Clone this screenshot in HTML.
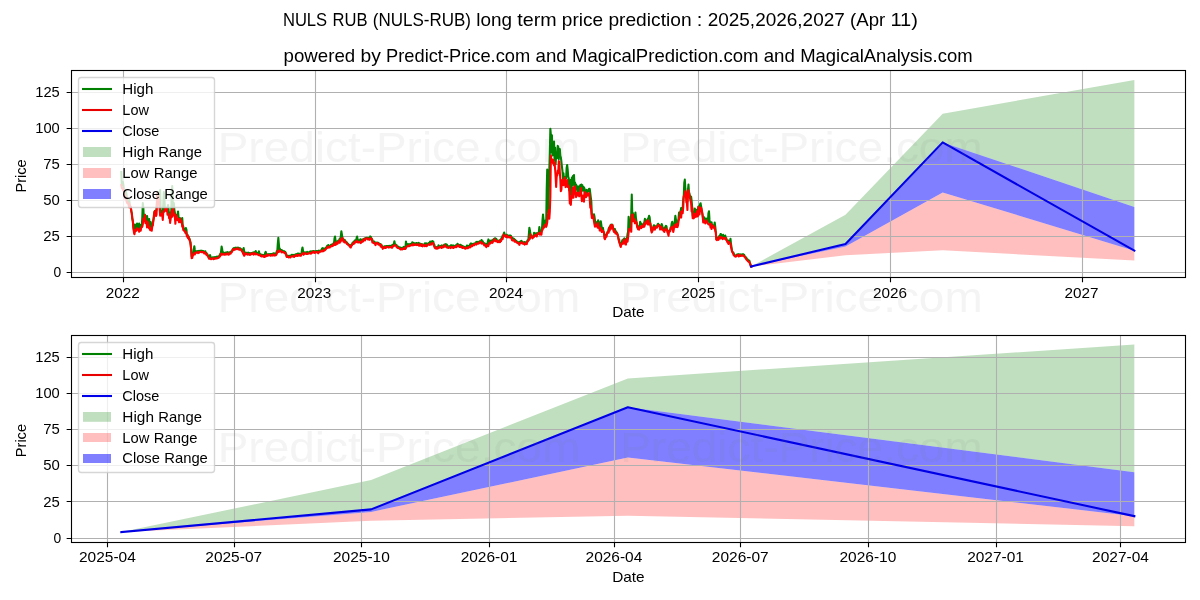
<!DOCTYPE html>
<html><head><meta charset="utf-8"><title>NULS RUB long term price prediction</title>
<style>html,body{margin:0;padding:0;background:#fff;}body{width:1200px;height:600px;overflow:hidden;font-family:"Liberation Sans",sans-serif;}</style></head>
<body>
<svg width="1200" height="600" viewBox="0 0 1200 600" style="display:block">
<rect x="0" y="0" width="1200" height="600" fill="#fff"/>
<g id="ax-top">
<clipPath id="clip-top"><rect x="71.5" y="70.5" width="1114.0" height="207.0"/></clipPath>
<g clip-path="url(#clip-top)">
<polygon points="750.98,266.53 845.51,214.69 942.67,113.74 1134.36,80.05 1134.36,206.91 942.67,142.40 845.51,243.92 750.98,266.53" fill="#008000" fill-opacity="0.25"/>
<polygon points="750.98,266.53 845.51,246.44 942.67,192.44 1134.36,250.69 1134.36,260.62 942.67,250.26 845.51,255.15 750.98,266.53" fill="#ff0000" fill-opacity="0.25"/>
<polygon points="750.98,266.53 845.51,243.92 942.67,142.40 1134.36,206.91 1134.36,250.69 942.67,192.44 845.51,246.44 750.98,266.53" fill="#0000ff" fill-opacity="0.5"/>
</g>
<path d="M123.5 70.5V277.5M315.5 70.5V277.5M506.5 70.5V277.5M698.5 70.5V277.5M890.5 70.5V277.5M1082.5 70.5V277.5M71.5 272.5H1185.5M71.5 236.5H1185.5M71.5 200.5H1185.5M71.5 164.5H1185.5M71.5 128.5H1185.5M71.5 92.5H1185.5" stroke="#b0b0b0" stroke-width="1.11" fill="none"/>
<g clip-path="url(#clip-top)">
<polyline points="121.30,172.00 121.83,184.99 122.35,183.70 122.88,182.00 123.40,185.13 123.93,190.33 124.45,192.19 124.98,194.92 125.50,193.06 126.03,192.00 126.55,195.01 127.08,200.39 127.60,201.24 128.13,202.26 128.65,201.23 129.18,200.00 129.70,204.15 130.23,206.79 130.75,206.67 131.28,210.85 131.80,213.33 132.33,218.59 132.85,221.02 133.38,227.18 133.90,229.99 134.43,232.68 134.95,224.50 135.48,230.37 136.00,228.73 136.53,228.64 137.06,223.50 137.58,229.19 138.11,228.33 138.63,226.88 139.16,223.50 139.68,229.25 140.21,226.91 140.73,225.00 141.26,226.92 141.78,226.93 142.31,216.81 142.83,203.00 143.36,208.04 143.88,219.61 144.41,215.74 144.93,214.73 145.46,217.36 145.98,222.10 146.51,218.25 147.03,216.00 147.56,220.00 148.08,222.09 148.61,220.50 149.13,219.00 149.66,225.31 150.18,226.16 150.71,222.00 151.23,228.83 151.76,225.41 152.29,225.80 152.81,223.51 153.34,220.09 153.86,215.33 154.39,211.91 154.91,210.81 155.44,210.77 155.96,211.67 156.49,209.97 157.01,200.64 157.54,192.05 158.06,192.00 158.59,197.50 159.11,203.06 159.64,202.91 160.16,190.00 160.69,210.83 161.21,210.48 161.74,215.21 162.26,212.12 162.79,214.79 163.31,203.26 163.84,192.00 164.36,197.10 164.89,208.85 165.41,208.07 165.94,208.16 166.46,208.40 166.99,208.64 167.51,207.41 168.04,205.00 168.57,209.48 169.09,215.88 169.62,215.71 170.14,220.56 170.67,212.22 171.19,214.92 171.72,193.23 172.24,186.00 172.77,203.15 173.29,208.45 173.82,203.00 174.34,209.84 174.87,212.71 175.39,215.94 175.92,214.72 176.44,215.63 176.97,215.31 177.49,215.72 178.02,211.44 178.54,217.39 179.07,217.77 179.59,218.54 180.12,218.32 180.64,220.88 181.17,220.18 181.69,220.19 182.22,218.00 182.74,224.98 183.27,226.91 183.80,228.53 184.32,229.62 184.85,230.91 185.37,230.11 185.90,228.00 186.42,229.61 186.95,235.19 187.47,234.83 188.00,237.31 188.52,236.47 189.05,238.62 189.57,238.75 190.10,240.95 190.62,242.45 191.15,249.21 191.67,256.47 192.20,256.23 192.72,254.47 193.25,254.31 193.77,249.99 194.30,246.25 194.82,249.88 195.35,252.53 195.87,251.42 196.40,252.22 196.92,251.16 197.45,251.79 197.97,251.07 198.50,251.97 199.03,250.96 199.55,251.46 200.08,250.73 200.60,251.48 201.13,250.64 201.65,251.50 202.18,250.79 202.70,251.66 203.23,251.03 203.75,252.04 204.28,251.63 204.80,252.35 205.33,251.25 205.85,253.11 206.38,252.78 206.90,254.07 207.43,254.31 207.95,255.96 208.48,256.26 209.00,258.21 209.53,255.71 210.05,255.00 210.58,256.78 211.10,258.51 211.63,257.84 212.15,258.19 212.68,257.32 213.20,258.00 213.73,257.23 214.26,258.15 214.78,257.14 215.31,258.05 215.83,257.12 216.36,257.88 216.88,256.68 217.41,257.64 217.93,256.71 218.46,257.04 218.98,256.05 219.51,256.02 220.03,254.09 220.56,254.69 221.08,251.34 221.61,246.50 222.13,248.86 222.66,253.58 223.18,252.28 223.71,253.78 224.23,253.03 224.76,252.96 225.28,252.50 225.81,253.35 226.33,252.48 226.86,252.41 227.38,252.07 227.91,253.09 228.43,252.62 228.96,253.64 229.49,252.29 230.01,252.63 230.54,251.93 231.06,251.44 231.59,251.17 232.11,251.01 232.64,249.32 233.16,248.69 233.69,248.06 234.21,248.41 234.74,247.95 235.26,248.55 235.79,247.68 236.31,248.26 236.84,247.91 237.36,248.34 237.89,247.48 238.41,248.28 238.94,248.09 239.46,249.19 239.99,248.21 240.51,248.97 241.04,249.10 241.56,249.57 242.09,250.19 242.61,251.53 243.14,249.64 243.66,248.10 244.19,251.35 244.71,252.98 245.24,252.67 245.77,253.71 246.29,252.72 246.82,253.32 247.34,252.96 247.87,254.04 248.39,252.64 248.92,253.65 249.44,253.09 249.97,253.85 250.49,253.30 251.02,253.26 251.54,252.97 252.07,253.25 252.59,252.68 253.12,253.70 253.64,252.44 254.17,253.37 254.69,252.38 255.22,253.06 255.74,251.02 256.27,252.67 256.79,252.71 257.32,253.90 257.84,253.22 258.37,253.93 258.89,251.25 259.42,253.49 259.94,253.97 260.47,254.95 261.00,254.50 261.52,254.93 262.05,254.72 262.57,255.99 263.10,254.84 263.62,255.56 264.15,254.97 264.67,256.34 265.20,252.76 265.72,251.90 266.25,254.01 266.77,254.26 267.30,254.28 267.82,254.68 268.35,254.15 268.87,254.74 269.40,254.17 269.92,254.78 270.45,253.96 270.97,254.01 271.50,253.92 272.02,254.44 272.55,253.76 273.07,254.49 273.60,253.28 274.12,254.73 274.65,253.55 275.17,254.19 275.70,253.44 276.23,254.46 276.75,251.07 277.28,251.62 277.80,243.63 278.33,237.75 278.85,243.79 279.38,249.68 279.90,248.70 280.43,250.45 280.95,249.83 281.48,250.79 282.00,250.21 282.53,251.51 283.05,251.07 283.58,251.67 284.10,251.15 284.63,251.91 285.15,251.72 285.68,252.75 286.20,253.92 286.73,256.34 287.25,255.67 287.78,256.27 288.30,255.80 288.83,257.00 289.35,255.75 289.88,256.23 290.40,255.73 290.93,255.74 291.46,254.95 291.98,255.61 292.51,254.88 293.03,255.62 293.56,254.96 294.08,255.52 294.61,254.79 295.13,255.13 295.66,254.23 296.18,255.30 296.71,254.05 297.23,254.70 297.76,253.55 298.28,254.55 298.81,253.66 299.33,254.43 299.86,253.74 300.38,254.60 300.91,253.77 301.43,254.18 301.96,249.83 302.48,247.50 303.01,250.54 303.53,254.33 304.06,252.20 304.58,252.87 305.11,252.40 305.63,252.71 306.16,252.63 306.69,253.20 307.21,251.91 307.74,253.54 308.26,252.43 308.79,252.39 309.31,251.94 309.84,252.37 310.36,251.44 310.89,252.67 311.41,251.44 311.94,251.82 312.46,251.27 312.99,251.48 313.51,251.05 314.04,251.60 314.56,251.18 315.09,251.41 315.61,251.28 316.14,251.47 316.66,251.04 317.19,251.82 317.71,251.06 318.24,251.66 318.76,250.66 319.29,251.39 319.81,250.78 320.34,251.17 320.86,250.40 321.39,250.51 321.91,248.72 322.44,248.10 322.97,248.46 323.49,249.96 324.02,248.45 324.54,248.71 325.07,248.74 325.59,248.95 326.12,247.44 326.64,247.72 327.17,245.87 327.69,246.49 328.22,245.05 328.74,246.75 329.27,246.02 329.79,246.40 330.32,245.44 330.84,245.96 331.37,244.66 331.89,245.60 332.42,244.29 332.94,244.94 333.47,243.29 333.99,243.36 334.52,238.34 335.04,236.50 335.57,240.89 336.09,241.87 336.62,241.86 337.14,242.34 337.67,241.22 338.20,240.93 338.72,240.21 339.25,240.41 339.77,238.59 340.30,239.77 340.82,236.31 341.35,231.25 341.87,234.23 342.40,237.72 342.92,239.04 343.45,239.97 343.97,239.61 344.50,241.29 345.02,240.23 345.55,241.60 346.07,241.71 346.60,242.56 347.12,242.47 347.65,244.03 348.17,243.91 348.70,244.95 349.22,244.81 349.75,245.78 350.27,245.98 350.80,245.47 351.32,244.56 351.85,244.97 352.37,243.09 352.90,243.28 353.43,241.84 353.95,241.56 354.48,240.93 355.00,241.30 355.53,239.96 356.05,241.30 356.58,238.07 357.10,236.50 357.63,239.32 358.15,241.61 358.68,240.98 359.20,241.46 359.73,240.54 360.25,239.40 360.78,239.37 361.30,241.36 361.83,240.37 362.35,240.31 362.88,239.23 363.40,239.76 363.93,238.79 364.45,239.58 364.98,238.31 365.50,238.16 366.03,238.13 366.55,237.74 367.08,237.97 367.60,238.46 368.13,237.73 368.66,238.51 369.18,238.20 369.71,237.89 370.23,236.43 370.76,236.90 371.28,238.00 371.81,238.76 372.33,239.68 372.86,241.26 373.38,241.37 373.91,242.73 374.43,241.61 374.96,242.74 375.48,242.63 376.01,243.05 376.53,242.66 377.06,242.96 377.58,242.59 378.11,242.87 378.63,242.99 379.16,243.76 379.68,243.70 380.21,244.73 380.73,244.19 381.26,244.70 381.78,245.73 382.31,246.86 382.83,246.93 383.36,246.93 383.89,246.59 384.41,246.74 384.94,246.25 385.46,246.18 385.99,246.13 386.51,246.03 387.04,245.92 387.56,246.20 388.09,246.08 388.61,247.14 389.14,245.81 389.66,247.02 390.19,246.09 390.71,246.90 391.24,245.57 391.76,246.59 392.29,245.22 392.81,244.80 393.34,244.59 393.86,243.95 394.39,241.20 394.91,244.21 395.44,244.29 395.96,245.15 396.49,245.03 397.01,246.18 397.54,246.37 398.06,247.33 398.59,246.71 399.11,247.51 399.64,247.62 400.17,248.32 400.69,247.57 401.22,248.75 401.74,248.10 402.27,248.51 402.79,247.55 403.32,248.71 403.84,246.93 404.37,247.55 404.89,247.28 405.42,247.94 405.94,241.50 406.47,244.34 406.99,245.58 407.52,245.71 408.04,244.01 408.57,245.49 409.09,244.74 409.62,244.70 410.14,243.90 410.67,244.75 411.19,243.90 411.72,244.43 412.24,242.25 412.77,243.56 413.29,242.78 413.82,244.06 414.34,243.23 414.87,244.03 415.40,243.28 415.92,244.00 416.45,242.98 416.97,243.97 417.50,243.34 418.02,243.60 418.55,242.89 419.07,243.94 419.60,243.43 420.12,244.45 420.65,243.81 421.17,244.93 421.70,244.24 422.22,244.28 422.75,244.77 423.27,245.05 423.80,244.76 424.32,244.83 424.85,243.43 425.37,244.69 425.90,243.32 426.42,244.51 426.95,243.57 427.47,243.98 428.00,243.78 428.52,243.82 429.05,242.82 429.57,243.14 430.10,241.50 430.63,243.78 431.15,242.93 431.68,242.75 432.20,241.07 432.73,241.48 433.25,241.50 433.78,243.91 434.30,244.56 434.83,247.09 435.35,246.93 435.88,247.52 436.40,247.09 436.93,247.68 437.45,247.16 437.98,247.72 438.50,245.21 439.03,247.26 439.55,246.24 440.08,246.96 440.60,246.02 441.13,245.93 441.65,245.36 442.18,246.34 442.70,245.90 443.23,246.49 443.75,245.66 444.28,244.65 444.80,244.62 445.33,245.31 445.86,244.13 446.38,245.08 446.91,244.61 447.43,245.90 447.96,246.57 448.48,246.65 449.01,246.20 449.53,246.67 450.06,246.12 450.58,246.46 451.11,245.15 451.63,245.85 452.16,245.55 452.68,246.65 453.21,245.40 453.73,246.21 454.26,246.05 454.78,246.29 455.31,245.67 455.83,245.30 456.36,245.02 456.88,245.27 457.41,243.84 457.93,245.25 458.46,244.59 458.98,245.13 459.51,245.15 460.03,246.33 460.56,244.77 461.08,245.76 461.61,245.45 462.14,246.02 462.66,246.08 463.19,246.81 463.71,246.57 464.24,247.09 464.76,247.06 465.29,247.61 465.81,247.07 466.34,247.16 466.86,245.60 467.39,247.40 467.91,245.94 468.44,246.80 468.96,245.86 469.49,246.02 470.01,244.21 470.54,244.97 471.06,243.37 471.59,244.52 472.11,243.81 472.64,244.89 473.16,244.08 473.69,244.39 474.21,243.41 474.74,244.04 475.26,243.27 475.79,243.27 476.31,241.90 476.84,243.23 477.37,241.91 477.89,243.04 478.42,241.99 478.94,242.25 479.47,241.40 479.99,241.45 480.52,241.02 481.04,241.50 481.57,239.95 482.09,242.57 482.62,241.30 483.14,242.37 483.67,242.93 484.19,244.12 484.72,243.42 485.24,245.13 485.77,244.77 486.29,244.70 486.82,243.91 487.34,244.67 487.87,241.44 488.39,239.40 488.92,240.51 489.44,242.87 489.97,241.11 490.49,241.19 491.02,240.52 491.54,241.36 492.07,240.35 492.60,240.37 493.12,239.63 493.65,239.85 494.17,238.82 494.70,238.50 495.22,238.31 495.75,240.10 496.27,238.84 496.80,240.47 497.32,240.48 497.85,240.80 498.37,240.63 498.90,241.61 499.42,240.55 499.95,241.89 500.47,239.57 501.00,239.88 501.52,238.10 502.05,237.24 502.57,235.88 503.10,235.82 503.62,234.05 504.15,232.50 504.67,234.25 505.20,235.94 505.72,235.31 506.25,235.13 506.77,234.62 507.30,235.65 507.83,235.59 508.35,236.78 508.88,235.51 509.40,236.92 509.93,235.45 510.45,235.60 510.98,235.97 511.50,238.08 512.03,237.47 512.55,237.92 513.08,238.54 513.60,238.69 514.13,238.99 514.65,239.94 515.18,239.74 515.70,241.00 516.23,240.73 516.75,241.57 517.28,241.78 517.80,242.76 518.33,242.25 518.85,243.24 519.38,242.20 519.90,242.56 520.43,241.44 520.95,242.29 521.48,240.86 522.00,241.81 522.53,241.80 523.06,242.44 523.58,242.29 524.11,243.23 524.63,242.03 525.16,243.12 525.68,242.64 526.21,243.28 526.73,241.96 527.26,241.18 527.78,239.97 528.31,240.12 528.83,234.58 529.36,227.75 529.88,230.24 530.41,233.93 530.93,235.17 531.46,236.67 531.98,236.14 532.51,237.79 533.03,236.62 533.56,235.77 534.08,232.75 534.61,234.42 535.13,233.53 535.66,234.38 536.18,233.19 536.71,234.54 537.23,233.70 537.76,233.23 538.28,232.75 538.81,232.34 539.34,227.00 539.86,231.16 540.39,231.64 540.91,232.47 541.44,231.25 541.96,229.38 542.49,220.25 543.01,214.50 543.54,219.88 544.06,225.82 544.59,222.26 545.11,224.33 545.64,220.35 546.16,226.51 546.69,190.18 547.21,169.60 547.74,194.19 548.26,212.26 548.79,192.25 549.31,170.00 549.84,152.61 550.36,128.75 550.89,135.27 551.41,152.26 551.94,135.21 552.46,155.36 552.99,141.67 553.51,145.00 554.04,141.45 554.57,159.94 555.09,147.57 555.62,164.19 556.14,154.89 556.67,158.30 557.19,153.59 557.72,145.80 558.24,146.97 558.77,159.27 559.29,148.84 559.82,149.20 560.34,155.90 560.87,157.50 561.39,161.89 561.92,166.70 562.44,170.80 562.97,179.42 563.49,173.30 564.02,180.41 564.54,177.18 565.07,182.08 565.59,176.70 566.12,178.61 566.64,167.64 567.17,165.00 567.69,169.50 568.22,176.70 568.74,178.23 569.27,190.56 569.80,184.18 570.32,194.79 570.85,179.83 571.37,194.60 571.90,177.50 572.42,185.25 572.95,176.02 573.47,179.73 574.00,175.00 574.52,185.89 575.05,182.50 575.57,189.71 576.10,184.57 576.62,186.70 577.15,188.09 577.67,191.62 578.20,186.41 578.72,191.90 579.25,187.83 579.77,186.70 580.30,185.16 580.82,187.84 581.35,184.52 581.87,189.24 582.40,185.30 582.92,190.79 583.45,186.91 583.97,187.50 584.50,188.74 585.03,192.80 585.55,190.93 586.08,190.99 586.60,189.94 587.13,193.68 587.65,190.96 588.18,191.33 588.70,189.43 589.23,188.75 589.75,188.90 590.28,193.30 590.80,197.40 591.33,201.70 591.85,214.70 592.38,214.48 592.90,214.72 593.43,216.19 593.95,214.20 594.48,216.57 595.00,220.51 595.53,224.97 596.05,221.91 596.58,223.48 597.10,222.81 597.63,224.79 598.15,220.20 598.68,222.45 599.20,224.71 599.73,227.75 600.26,223.95 600.78,221.25 601.31,224.71 601.83,229.54 602.36,228.63 602.88,227.78 603.41,230.94 603.93,232.27 604.46,234.97 604.98,238.02 605.51,235.32 606.03,235.49 606.56,234.03 607.08,233.32 607.61,231.89 608.13,231.24 608.66,228.64 609.18,227.64 609.71,226.62 610.23,226.56 610.76,224.74 611.28,225.53 611.81,224.60 612.33,224.71 612.86,226.54 613.38,228.53 613.91,229.08 614.43,229.90 614.96,229.11 615.48,232.01 616.01,231.25 616.54,232.33 617.06,232.92 617.59,234.45 618.11,236.34 618.64,239.02 619.16,239.50 619.69,243.11 620.21,243.82 620.74,245.33 621.26,242.72 621.79,243.06 622.31,240.30 622.84,240.88 623.36,239.48 623.89,239.24 624.41,238.30 624.94,240.93 625.46,240.88 625.99,241.40 626.51,238.59 627.04,237.95 627.56,233.93 628.09,231.57 628.61,216.90 629.14,227.17 629.66,226.06 630.19,228.48 630.71,220.34 631.24,213.52 631.77,194.42 632.29,214.39 632.82,212.90 633.34,216.47 633.87,217.52 634.39,218.90 634.92,215.99 635.44,212.50 635.97,218.24 636.49,221.77 637.02,224.71 637.54,227.33 638.07,226.15 638.59,227.21 639.12,226.76 639.64,225.82 640.17,221.70 640.69,223.34 641.22,224.47 641.74,223.96 642.27,225.04 642.79,226.00 643.32,225.38 643.84,223.72 644.37,222.07 644.89,218.90 645.42,220.33 645.94,221.23 646.47,220.97 647.00,221.15 647.52,219.38 648.05,218.81 648.57,217.74 649.10,215.80 649.62,217.18 650.15,222.07 650.67,224.87 651.20,229.45 651.72,231.31 652.25,230.57 652.77,228.96 653.30,226.96 653.82,225.19 654.35,225.40 654.87,225.88 655.40,227.73 655.92,226.74 656.45,226.77 656.97,226.25 657.50,224.59 658.02,223.75 658.55,225.68 659.07,224.67 659.60,226.30 660.12,226.16 660.65,226.57 661.17,225.84 661.70,224.00 662.23,225.44 662.75,228.70 663.28,228.76 663.80,230.20 664.33,227.99 664.85,229.23 665.38,226.59 665.90,225.80 666.43,226.24 666.95,229.38 667.48,230.20 668.00,232.92 668.53,232.08 669.05,231.10 669.58,230.39 670.10,230.09 670.63,227.47 671.15,227.03 671.68,223.42 672.20,221.70 672.73,224.85 673.25,227.91 673.78,225.13 674.30,225.13 674.83,220.76 675.35,215.80 675.88,219.34 676.40,223.55 676.93,222.81 677.46,225.71 677.98,221.42 678.51,218.98 679.03,212.48 679.56,216.41 680.08,215.36 680.61,211.25 681.13,208.00 681.66,211.54 682.18,209.93 682.71,207.97 683.23,199.51 683.76,196.01 684.28,182.57 684.81,179.60 685.33,188.73 685.86,193.81 686.38,195.17 686.91,201.10 687.43,201.17 687.96,189.92 688.48,184.60 689.01,192.26 689.53,193.56 690.06,196.59 690.58,197.82 691.11,196.70 691.63,200.78 692.16,207.14 692.68,215.16 693.21,217.54 693.74,216.29 694.26,214.83 694.79,208.50 695.31,210.56 695.84,211.46 696.36,213.24 696.89,209.88 697.41,210.46 697.94,208.89 698.46,206.43 698.99,206.50 699.51,207.21 700.04,204.32 700.56,203.30 701.09,206.17 701.61,209.21 702.14,211.94 702.66,215.38 703.19,219.75 703.71,221.17 704.24,217.40 704.76,218.30 705.29,219.33 705.81,219.91 706.34,218.85 706.86,218.55 707.39,218.36 707.91,221.66 708.44,213.18 708.97,211.25 709.49,219.41 710.02,224.48 710.54,223.92 711.07,222.50 711.59,222.36 712.12,226.09 712.64,225.23 713.17,225.99 713.69,225.80 714.22,226.38 714.74,222.50 715.27,226.99 715.79,231.55 716.32,239.20 716.84,238.69 717.37,238.50 717.89,238.20 718.42,237.64 718.94,236.38 719.47,236.68 719.99,235.54 720.52,234.00 721.04,234.19 721.57,236.84 722.09,235.81 722.62,236.84 723.14,234.84 723.67,237.59 724.20,236.73 724.72,237.29 725.25,235.60 725.77,237.98 726.30,238.27 726.82,240.25 727.35,240.33 727.87,241.41 728.40,240.64 728.92,241.65 729.45,241.03 729.97,241.55 730.50,238.75 731.02,244.06 731.55,247.39 732.07,251.43 732.60,251.80 733.12,252.93 733.65,253.07 734.17,254.80 734.70,255.13 735.22,256.02 735.75,255.28 736.27,255.53 736.80,254.72 737.32,255.29 737.85,254.34 738.37,254.99 738.90,254.20 739.43,254.77 739.95,254.70 740.48,255.25 741.00,254.32 741.53,255.05 742.05,254.51 742.58,255.21 743.10,254.16 743.63,255.11 744.15,254.82 744.68,256.24 745.20,256.58 745.73,257.91 746.25,257.61 746.78,259.33 747.30,259.02 747.83,260.23 748.35,260.02 748.88,261.12 749.40,260.84 749.93,262.88 750.45,264.14 750.98,266.07 751.50,266.50" fill="none" stroke="#008000" stroke-width="2.08" stroke-linejoin="round" stroke-linecap="square"/>
<polyline points="121.30,185.00 121.83,188.00 122.35,188.62 122.88,188.51 123.40,190.72 123.93,190.63 124.45,194.33 124.98,198.34 125.50,195.99 126.03,197.49 126.55,201.49 127.08,202.84 127.60,203.40 128.13,202.56 128.65,205.20 129.18,207.36 129.70,204.61 130.23,207.09 130.75,206.97 131.28,211.15 131.80,213.63 132.33,218.89 132.85,221.45 133.38,227.83 133.90,232.23 134.43,234.29 134.95,229.74 135.48,231.07 136.00,230.69 136.53,230.72 137.06,228.38 137.58,229.49 138.11,228.63 138.63,229.21 139.16,231.79 139.68,229.55 140.21,230.55 140.73,230.65 141.26,227.31 141.78,227.23 142.31,226.54 142.83,224.22 143.36,218.52 143.88,219.91 144.41,221.06 144.93,215.03 145.46,223.10 145.98,222.40 146.51,221.28 147.03,227.41 147.56,225.73 148.08,222.39 148.61,226.34 149.13,228.45 149.66,227.61 150.18,230.11 150.71,229.23 151.23,230.30 151.76,230.75 152.29,226.10 152.81,225.57 153.34,220.39 153.86,218.32 154.39,212.21 154.91,211.11 155.44,211.87 155.96,215.95 156.49,214.88 157.01,200.94 157.54,192.35 158.06,197.07 158.59,197.80 159.11,205.30 159.64,208.74 160.16,215.74 160.69,215.61 161.21,213.73 161.74,215.51 162.26,214.86 162.79,219.97 163.31,211.94 163.84,210.82 164.36,211.55 164.89,209.15 165.41,210.05 165.94,208.46 166.46,210.93 166.99,208.94 167.51,214.60 168.04,214.65 168.57,214.19 169.09,218.10 169.62,217.17 170.14,222.96 170.67,217.62 171.19,217.53 171.72,210.61 172.24,216.67 172.77,209.70 173.29,208.75 173.82,215.16 174.34,213.40 174.87,217.33 175.39,223.81 175.92,215.02 176.44,215.93 176.97,218.76 177.49,220.14 178.02,218.70 178.54,219.11 179.07,222.20 179.59,222.07 180.12,218.62 180.64,221.60 181.17,222.46 181.69,221.08 182.22,226.75 182.74,225.50 183.27,230.09 183.80,230.19 184.32,231.10 184.85,231.40 185.37,232.91 185.90,231.83 186.42,233.89 186.95,236.57 187.47,235.13 188.00,238.13 188.52,236.77 189.05,239.47 189.57,239.76 190.10,242.18 190.62,245.04 191.15,249.51 191.67,258.11 192.20,257.97 192.72,255.80 193.25,254.61 193.77,254.28 194.30,253.19 194.82,254.52 195.35,252.83 195.87,252.98 196.40,252.54 196.92,252.49 197.45,252.09 197.97,253.04 198.50,252.31 199.03,252.67 199.55,252.13 200.08,251.70 200.60,251.78 201.13,251.81 201.65,252.18 202.18,252.14 202.70,252.30 203.23,251.97 203.75,252.34 204.28,253.50 204.80,252.65 205.33,252.62 205.85,253.70 206.38,254.82 206.90,254.37 207.43,255.58 207.95,256.52 208.48,257.14 209.00,258.64 209.53,258.53 210.05,258.82 210.58,258.62 211.10,259.15 211.63,258.68 212.15,258.78 212.68,258.39 213.20,258.30 213.73,259.15 214.26,258.45 214.78,258.67 215.31,258.51 215.83,258.29 216.36,258.18 216.88,258.50 217.41,258.09 217.93,258.06 218.46,257.66 218.98,257.58 219.51,256.91 220.03,256.26 220.56,254.99 221.08,253.57 221.61,254.71 222.13,254.63 222.66,253.88 223.18,254.43 223.71,254.61 224.23,254.75 224.76,254.65 225.28,253.95 225.81,254.61 226.33,253.35 226.86,254.11 227.38,254.02 227.91,254.22 228.43,254.69 228.96,254.58 229.49,253.42 230.01,252.93 230.54,253.71 231.06,252.69 231.59,252.30 232.11,251.82 232.64,249.86 233.16,248.99 233.69,249.95 234.21,249.73 234.74,249.47 235.26,249.48 235.79,248.95 236.31,248.56 236.84,249.11 237.36,248.64 237.89,248.23 238.41,249.36 238.94,249.25 239.46,249.63 239.99,249.14 240.51,249.46 241.04,249.91 241.56,250.56 242.09,251.65 242.61,251.83 243.14,253.69 243.66,254.63 244.19,255.72 244.71,253.28 245.24,254.48 245.77,254.01 246.29,254.12 246.82,253.62 247.34,254.11 247.87,254.68 248.39,254.38 248.92,254.47 249.44,254.34 249.97,254.94 250.49,254.49 251.02,253.56 251.54,254.12 252.07,253.55 252.59,252.98 253.12,254.01 253.64,254.66 254.17,254.04 254.69,253.39 255.22,253.36 255.74,254.36 256.27,254.03 256.79,254.11 257.32,254.20 257.84,254.38 258.37,255.01 258.89,255.12 259.42,255.20 259.94,254.81 260.47,255.81 261.00,255.51 261.52,256.39 262.05,255.67 262.57,256.29 263.10,256.48 263.62,255.86 264.15,257.04 264.67,256.93 265.20,255.81 265.72,256.38 266.25,256.08 266.77,254.56 267.30,255.81 267.82,255.60 268.35,255.58 268.87,255.04 269.40,255.27 269.92,255.22 270.45,255.68 270.97,255.26 271.50,255.04 272.02,255.61 272.55,254.78 273.07,254.85 273.60,254.28 274.12,255.62 274.65,255.38 275.17,255.37 275.70,255.30 276.23,254.76 276.75,253.61 277.28,251.92 277.80,251.01 278.33,250.50 278.85,252.07 279.38,251.08 279.90,250.82 280.43,250.90 280.95,251.13 281.48,252.35 282.00,252.07 282.53,252.09 283.05,252.12 283.58,251.97 284.10,252.60 284.63,253.17 285.15,252.82 285.68,253.55 286.20,255.15 286.73,256.88 287.25,256.40 287.78,257.01 288.30,256.88 288.83,257.52 289.35,256.78 289.88,257.16 290.40,257.39 290.93,256.58 291.46,256.34 291.98,256.54 292.51,256.38 293.03,255.92 293.56,256.39 294.08,256.90 294.61,255.95 295.13,255.87 295.66,255.41 296.18,255.81 296.71,255.08 297.23,255.00 297.76,255.81 298.28,254.85 298.81,255.55 299.33,255.64 299.86,255.05 300.38,255.09 300.91,255.78 301.43,254.48 301.96,253.97 302.48,253.18 303.01,254.02 303.53,254.75 304.06,254.05 304.58,253.17 305.11,253.32 305.63,253.57 306.16,254.00 306.69,253.90 307.21,253.96 307.74,253.84 308.26,253.44 308.79,253.40 309.31,253.35 309.84,253.08 310.36,253.22 310.89,253.70 311.41,253.06 311.94,252.73 312.46,251.89 312.99,252.67 313.51,251.67 314.04,251.90 314.56,252.86 315.09,252.80 315.61,252.44 316.14,251.77 316.66,252.30 317.19,252.12 317.71,252.64 318.24,253.30 318.76,252.38 319.29,251.90 319.81,251.52 320.34,251.79 320.86,251.53 321.39,250.81 321.91,251.26 322.44,250.36 322.97,251.38 323.49,251.12 324.02,250.87 324.54,249.93 325.07,250.09 325.59,249.32 326.12,248.74 326.64,248.29 327.17,247.34 327.69,246.79 328.22,247.63 328.74,247.05 329.27,247.18 329.79,247.52 330.32,246.03 330.84,246.26 331.37,246.42 331.89,246.19 332.42,245.42 332.94,245.90 333.47,245.18 333.99,243.66 334.52,243.59 335.04,245.05 335.57,244.45 336.09,242.17 336.62,244.33 337.14,243.48 337.67,243.62 338.20,242.25 338.72,241.92 339.25,240.71 339.77,242.84 340.30,240.07 340.82,241.42 341.35,238.43 341.87,239.11 342.40,238.02 342.92,240.17 343.45,241.61 343.97,240.54 344.50,242.41 345.02,242.35 345.55,241.91 346.07,242.77 346.60,243.33 347.12,244.09 347.65,244.35 348.17,244.72 348.70,245.53 349.22,245.68 349.75,246.08 350.27,247.25 350.80,247.52 351.32,245.50 351.85,245.55 352.37,244.42 352.90,243.58 353.43,244.01 353.95,242.55 354.48,243.33 355.00,241.71 355.53,242.26 356.05,241.60 356.58,240.92 357.10,242.14 357.63,241.72 358.15,242.53 358.68,242.24 359.20,241.76 359.73,242.38 360.25,242.44 360.78,243.03 361.30,241.66 361.83,242.15 362.35,240.61 362.88,241.65 363.40,240.06 363.93,239.09 364.45,239.88 364.98,240.46 365.50,238.46 366.03,238.54 366.55,238.56 367.08,238.27 367.60,239.40 368.13,238.67 368.66,238.81 369.18,239.80 369.71,238.75 370.23,239.50 370.76,238.36 371.28,238.45 371.81,239.06 372.33,242.46 372.86,242.04 373.38,242.88 373.91,243.03 374.43,243.45 374.96,243.70 375.48,245.09 376.01,243.35 376.53,242.99 377.06,243.26 377.58,243.01 378.11,244.26 378.63,244.69 379.16,244.06 379.68,244.22 380.21,245.19 380.73,246.62 381.26,245.00 381.78,247.36 382.31,247.16 382.83,248.82 383.36,247.79 383.89,247.92 384.41,247.04 384.94,247.04 385.46,247.98 385.99,247.72 386.51,247.15 387.04,246.96 387.56,246.50 388.09,247.29 388.61,247.44 389.14,247.37 389.66,247.32 390.19,246.75 390.71,247.25 391.24,247.16 391.76,247.59 392.29,247.63 392.81,246.32 393.34,245.63 393.86,245.90 394.39,245.40 394.91,245.19 395.44,245.57 395.96,245.45 396.49,246.90 397.01,247.06 397.54,247.76 398.06,248.04 398.59,248.05 399.11,248.22 399.64,248.84 400.17,248.97 400.69,249.51 401.22,249.40 401.74,248.76 402.27,249.43 402.79,248.76 403.32,249.01 403.84,249.03 404.37,247.85 404.89,248.97 405.42,248.89 405.94,247.97 406.47,246.97 406.99,246.53 407.52,246.01 408.04,246.29 408.57,245.95 409.09,246.11 409.62,245.20 410.14,245.77 410.67,245.51 411.19,245.14 411.72,244.73 412.24,245.31 412.77,243.86 413.29,245.17 413.82,244.98 414.34,244.95 414.87,244.97 415.40,244.38 415.92,244.60 416.45,245.11 416.97,244.99 417.50,244.87 418.02,243.90 418.55,245.16 419.07,245.62 419.60,245.63 420.12,245.30 420.65,244.45 421.17,246.03 421.70,245.65 422.22,244.58 422.75,246.35 423.27,245.35 423.80,245.23 424.32,245.38 424.85,246.21 425.37,245.10 425.90,245.36 426.42,246.12 426.95,245.99 427.47,245.00 428.00,244.86 428.52,244.12 429.05,244.30 429.57,244.91 430.10,244.76 430.63,244.38 431.15,244.54 431.68,243.05 432.20,243.07 432.73,243.14 433.25,243.58 433.78,245.38 434.30,246.54 434.83,247.73 435.35,248.38 435.88,247.82 436.40,247.62 436.93,248.75 437.45,248.30 437.98,248.38 438.50,247.13 439.03,247.75 439.55,247.50 440.08,247.27 440.60,246.50 441.13,247.38 441.65,247.92 442.18,247.58 442.70,246.99 443.23,247.09 443.75,247.15 444.28,244.95 444.80,245.99 445.33,246.01 445.86,246.27 446.38,247.26 446.91,247.40 447.43,247.42 447.96,247.86 448.48,248.01 449.01,247.20 449.53,247.31 450.06,247.65 450.58,248.05 451.11,246.82 451.63,246.93 452.16,247.12 452.68,247.77 453.21,247.12 453.73,247.94 454.26,246.75 454.78,246.98 455.31,246.79 455.83,247.13 456.36,247.10 456.88,245.57 457.41,245.71 457.93,246.20 458.46,245.76 458.98,245.43 459.51,246.91 460.03,246.75 460.56,246.87 461.08,246.49 461.61,247.40 462.14,246.97 462.66,247.92 463.19,247.17 463.71,247.47 464.24,248.26 464.76,248.09 465.29,248.75 465.81,248.42 466.34,247.63 466.86,248.07 467.39,247.70 467.91,248.27 468.44,247.12 468.96,246.86 469.49,247.35 470.01,247.54 470.54,247.06 471.06,245.66 471.59,245.63 472.11,246.25 472.64,245.24 473.16,244.67 473.69,245.17 474.21,245.26 474.74,244.34 475.26,243.67 475.79,243.57 476.31,244.56 476.84,243.53 477.37,243.68 477.89,243.64 478.42,243.63 478.94,242.80 479.47,243.05 479.99,241.95 480.52,242.04 481.04,241.95 481.57,243.57 482.09,243.19 482.62,243.09 483.14,243.69 483.67,244.29 484.19,245.33 484.72,244.59 485.24,245.43 485.77,245.88 486.29,247.18 486.82,246.05 487.34,245.06 487.87,245.40 488.39,246.05 488.92,243.73 489.44,243.17 489.97,243.77 490.49,242.81 491.02,242.65 491.54,241.66 492.07,242.92 492.60,242.54 493.12,241.53 493.65,241.28 494.17,239.12 494.70,240.57 495.22,240.11 495.75,240.93 496.27,241.49 496.80,241.22 497.32,240.78 497.85,242.24 498.37,241.67 498.90,242.06 499.42,242.01 499.95,242.19 500.47,239.87 501.00,241.08 501.52,239.38 502.05,239.13 502.57,239.15 503.10,236.95 503.62,234.65 504.15,235.60 504.67,235.46 505.20,236.24 505.72,236.86 506.25,235.43 506.77,237.25 507.30,235.95 507.83,237.36 508.35,237.13 508.88,237.11 509.40,237.47 509.93,237.28 510.45,237.40 510.98,236.75 511.50,238.38 512.03,240.12 512.55,240.56 513.08,240.50 513.60,240.47 514.13,239.95 514.65,241.74 515.18,241.16 515.70,241.55 516.23,241.83 516.75,242.50 517.28,242.63 517.80,243.28 518.33,243.14 518.85,243.63 519.38,244.87 519.90,243.18 520.43,242.76 520.95,242.91 521.48,243.08 522.00,242.19 522.53,242.95 523.06,243.83 523.58,243.65 524.11,243.67 524.63,244.61 525.16,243.42 525.68,243.96 526.21,243.58 526.73,244.19 527.26,241.48 527.78,241.63 528.31,240.42 528.83,240.19 529.36,238.71 529.88,238.86 530.41,234.23 530.93,237.27 531.46,236.97 531.98,237.14 532.51,238.32 533.03,237.40 533.56,236.07 534.08,236.81 534.61,235.00 535.13,235.17 535.66,235.90 536.18,235.67 536.71,236.51 537.23,234.92 537.76,233.53 538.28,233.92 538.81,233.48 539.34,232.93 539.86,234.77 540.39,233.71 540.91,232.77 541.44,234.71 541.96,230.64 542.49,229.89 543.01,228.38 543.54,228.34 544.06,226.12 544.59,226.83 545.11,224.63 545.64,224.94 546.16,226.81 546.69,225.05 547.21,222.49 547.74,216.96 548.26,212.56 548.79,210.12 549.31,218.59 549.84,211.33 550.36,196.42 550.89,155.55 551.41,161.50 551.94,162.14 552.46,159.51 552.99,163.12 553.51,160.09 554.04,165.34 554.57,162.45 555.09,169.00 555.62,176.86 556.14,187.05 556.67,176.57 557.19,175.61 557.72,170.49 558.24,173.35 558.77,161.06 559.29,161.86 559.82,172.02 560.34,179.75 560.87,191.09 561.39,189.74 561.92,180.46 562.44,179.77 562.97,183.25 563.49,185.26 564.02,183.80 564.54,177.48 565.07,182.38 565.59,187.08 566.12,185.96 566.64,183.30 567.17,179.97 567.69,186.89 568.22,185.33 568.74,186.24 569.27,190.93 569.80,203.47 570.32,203.41 570.85,204.84 571.37,195.97 571.90,198.02 572.42,189.05 572.95,187.70 573.47,197.73 574.00,191.21 574.52,186.40 575.05,188.17 575.57,191.81 576.10,197.18 576.62,194.10 577.15,192.73 577.67,195.37 578.20,193.86 578.72,193.06 579.25,196.33 579.77,192.20 580.30,194.03 580.82,188.14 581.35,195.93 581.87,201.22 582.40,196.89 582.92,195.53 583.45,195.60 583.97,201.69 584.50,191.95 585.03,195.01 585.55,196.64 586.08,197.21 586.60,193.33 587.13,195.63 587.65,193.97 588.18,195.37 588.70,195.47 589.23,193.01 589.75,199.40 590.28,207.64 590.80,205.62 591.33,212.14 591.85,217.99 592.38,214.78 592.90,218.25 593.43,216.49 593.95,221.44 594.48,224.38 595.00,226.69 595.53,225.27 596.05,226.20 596.58,224.55 597.10,224.68 597.63,227.68 598.15,222.91 598.68,227.94 599.20,226.85 599.73,230.55 600.26,229.04 600.78,228.14 601.31,230.75 601.83,232.04 602.36,230.42 602.88,230.74 603.41,231.89 603.93,232.57 604.46,238.33 604.98,239.11 605.51,237.50 606.03,236.38 606.56,236.61 607.08,233.62 607.61,232.19 608.13,231.81 608.66,232.66 609.18,227.94 609.71,230.63 610.23,226.86 610.76,225.04 611.28,228.81 611.81,226.78 612.33,225.01 612.86,227.33 613.38,230.39 613.91,231.87 614.43,230.51 614.96,232.36 615.48,233.46 616.01,232.21 616.54,234.01 617.06,233.95 617.59,234.75 618.11,237.12 618.64,240.08 619.16,242.08 619.69,243.41 620.21,245.55 620.74,247.02 621.26,244.80 621.79,244.24 622.31,243.57 622.84,242.24 623.36,243.61 623.89,239.54 624.41,242.05 624.94,241.23 625.46,244.47 625.99,244.57 626.51,238.89 627.04,239.51 627.56,241.64 628.09,237.53 628.61,232.96 629.14,229.05 629.66,229.27 630.19,229.41 630.71,228.28 631.24,231.74 631.77,214.70 632.29,217.82 632.82,214.54 633.34,221.12 633.87,219.73 634.39,219.20 634.92,223.24 635.44,221.17 635.97,222.27 636.49,222.07 637.02,226.48 637.54,227.96 638.07,229.29 638.59,227.92 639.12,229.64 639.64,227.24 640.17,226.40 640.69,226.98 641.22,228.05 641.74,225.98 642.27,226.59 642.79,227.15 643.32,226.83 643.84,224.02 644.37,226.62 644.89,223.18 645.42,224.44 645.94,221.53 646.47,223.34 647.00,222.78 647.52,220.57 648.05,224.53 648.57,220.61 649.10,224.37 649.62,224.37 650.15,223.29 650.67,226.13 651.20,230.02 651.72,232.51 652.25,231.42 652.77,230.01 653.30,227.26 653.82,228.95 654.35,226.76 654.87,229.61 655.40,228.03 655.92,227.56 656.45,227.52 656.97,227.73 657.50,225.68 658.02,225.18 658.55,225.98 659.07,225.17 659.60,226.60 660.12,229.46 660.65,226.87 661.17,229.27 661.70,227.26 662.23,229.68 662.75,229.47 663.28,230.28 663.80,231.27 664.33,231.93 664.85,229.93 665.38,229.36 665.90,228.39 666.43,230.30 666.95,229.68 667.48,232.33 668.00,233.72 668.53,235.83 669.05,231.40 669.58,231.49 670.10,231.50 670.63,229.20 671.15,227.48 671.68,228.17 672.20,226.95 672.73,229.27 673.25,231.91 673.78,229.41 674.30,225.43 674.83,225.00 675.35,225.24 675.88,227.07 676.40,223.85 676.93,224.64 677.46,227.09 677.98,225.51 678.51,221.60 679.03,218.77 679.56,216.71 680.08,216.58 680.61,211.55 681.13,217.56 681.66,211.84 682.18,212.54 682.71,213.15 683.23,207.45 683.76,196.31 684.28,196.15 684.81,194.40 685.33,191.28 685.86,194.11 686.38,202.33 686.91,203.25 687.43,210.07 687.96,190.22 688.48,190.38 689.01,194.35 689.53,195.88 690.06,198.73 690.58,200.83 691.11,202.98 691.63,211.45 692.16,207.44 692.68,218.20 693.21,217.84 693.74,218.30 694.26,217.18 694.79,213.80 695.31,213.92 695.84,216.88 696.36,214.72 696.89,211.38 697.41,216.38 697.94,216.05 698.46,206.73 698.99,209.77 699.51,214.36 700.04,209.70 700.56,207.79 701.09,207.83 701.61,209.51 702.14,212.81 702.66,215.93 703.19,222.41 703.71,221.47 704.24,222.12 704.76,221.24 705.29,223.38 705.81,220.21 706.34,220.50 706.86,222.56 707.39,222.21 707.91,223.69 708.44,224.35 708.97,224.28 709.49,224.49 710.02,224.78 710.54,227.43 711.07,223.98 711.59,229.08 712.12,226.75 712.64,225.53 713.17,226.29 713.69,226.10 714.22,228.46 714.74,227.34 715.27,231.00 715.79,232.47 716.32,239.50 716.84,240.16 717.37,238.80 717.89,239.58 718.42,239.81 718.94,239.02 719.47,236.98 719.99,236.88 720.52,238.47 721.04,237.27 721.57,237.14 722.09,238.06 722.62,239.18 723.14,238.47 723.67,237.89 724.20,238.33 724.72,238.80 725.25,238.09 725.77,238.28 726.30,240.16 726.82,240.55 727.35,242.16 727.87,242.56 728.40,243.93 728.92,241.95 729.45,242.46 729.97,242.96 730.50,244.02 731.02,247.24 731.55,249.35 732.07,251.73 732.60,252.31 733.12,253.57 733.65,255.04 734.17,255.66 734.70,256.06 735.22,256.64 735.75,256.52 736.27,256.43 736.80,255.74 737.32,255.59 737.85,254.95 738.37,255.29 738.90,256.45 739.43,255.07 739.95,255.86 740.48,256.02 741.00,255.73 741.53,255.49 742.05,255.71 742.58,255.67 743.10,255.57 743.63,255.41 744.15,256.60 744.68,256.86 745.20,257.55 745.73,258.48 746.25,259.28 746.78,260.01 747.30,260.19 747.83,261.13 748.35,261.56 748.88,261.90 749.40,262.35 749.93,263.59 750.45,265.31 750.98,266.68 751.50,266.50" fill="none" stroke="#ff0000" stroke-width="2.08" stroke-linejoin="round" stroke-linecap="square"/>
<polyline points="750.98,266.53 845.51,243.92 942.67,142.40 1134.36,250.69" fill="none" stroke="#0000e6" stroke-width="2.08" stroke-linejoin="round" stroke-linecap="square"/>
</g>
<path d="M123.5 277.5v4.86M315.5 277.5v4.86M506.5 277.5v4.86M698.5 277.5v4.86M890.5 277.5v4.86M1082.5 277.5v4.86M71.5 272.5h-4.86M71.5 236.5h-4.86M71.5 200.5h-4.86M71.5 164.5h-4.86M71.5 128.5h-4.86M71.5 92.5h-4.86" stroke="#000" stroke-width="1.11" fill="none"/>
<rect x="71.5" y="70.5" width="1114.0" height="207.0" fill="none" stroke="#000" stroke-width="1.11"/>
</g>
<g id="ax-bot">
<clipPath id="clip-bot"><rect x="71.5" y="335.5" width="1114.0" height="207.0"/></clipPath>
<g clip-path="url(#clip-bot)">
<polygon points="121.30,532.10 371.09,479.97 627.82,378.46 1134.34,344.58 1134.34,472.15 627.82,407.28 371.09,509.36 121.30,532.10" fill="#008000" fill-opacity="0.25"/>
<polygon points="121.30,532.10 371.09,511.90 627.82,457.60 1134.34,516.17 1134.34,526.16 627.82,515.74 371.09,520.66 121.30,532.10" fill="#ff0000" fill-opacity="0.25"/>
<polygon points="121.30,532.10 371.09,509.36 627.82,407.28 1134.34,472.15 1134.34,516.17 627.82,457.60 371.09,511.90 121.30,532.10" fill="#0000ff" fill-opacity="0.5"/>
</g>
<path d="M107.5 335.5V542.5M234.5 335.5V542.5M361.5 335.5V542.5M489.5 335.5V542.5M614.5 335.5V542.5M740.5 335.5V542.5M868.5 335.5V542.5M996.5 335.5V542.5M1120.5 335.5V542.5M71.5 538.5H1185.5M71.5 501.5H1185.5M71.5 465.5H1185.5M71.5 429.5H1185.5M71.5 393.5H1185.5M71.5 357.5H1185.5" stroke="#b0b0b0" stroke-width="1.11" fill="none"/>
<g clip-path="url(#clip-bot)">
<polyline points="121.30,532.10 371.09,509.36 627.82,407.28 1134.34,516.17" fill="none" stroke="#0000e6" stroke-width="2.08" stroke-linejoin="round" stroke-linecap="square"/>
</g>
<path d="M107.5 542.5v4.86M234.5 542.5v4.86M361.5 542.5v4.86M489.5 542.5v4.86M614.5 542.5v4.86M740.5 542.5v4.86M868.5 542.5v4.86M996.5 542.5v4.86M1120.5 542.5v4.86M71.5 538.5h-4.86M71.5 501.5h-4.86M71.5 465.5h-4.86M71.5 429.5h-4.86M71.5 393.5h-4.86M71.5 357.5h-4.86" stroke="#000" stroke-width="1.11" fill="none"/>
<rect x="71.5" y="335.5" width="1114.0" height="207.0" fill="none" stroke="#000" stroke-width="1.11"/>
</g>
<rect x="78.5" y="77.5" width="136" height="130" rx="2.8" ry="2.8" fill="#fff" fill-opacity="0.8" stroke="#ccc" stroke-opacity="0.8" stroke-width="1.39"/>
<path d="M82 89H112" stroke="#008000" stroke-width="2.08"/>
<path d="M82 110H112" stroke="#e80000" stroke-width="2.08"/>
<path d="M82 131H112" stroke="#0000e8" stroke-width="2.08"/>
<rect x="83" y="147" width="28" height="10" fill="#008000" fill-opacity="0.25"/>
<rect x="83" y="168" width="28" height="10" fill="#ff0000" fill-opacity="0.25"/>
<rect x="83" y="189" width="28" height="10" fill="#0000ff" fill-opacity="0.5"/>
<rect x="78.5" y="342.5" width="136" height="130" rx="2.8" ry="2.8" fill="#fff" fill-opacity="0.8" stroke="#ccc" stroke-opacity="0.8" stroke-width="1.39"/>
<path d="M82 354H112" stroke="#008000" stroke-width="2.08"/>
<path d="M82 375H112" stroke="#e80000" stroke-width="2.08"/>
<path d="M82 396H112" stroke="#0000e8" stroke-width="2.08"/>
<rect x="83" y="412" width="28" height="9.8" fill="#008000" fill-opacity="0.25"/>
<rect x="83" y="433" width="28" height="9.0" fill="#ff0000" fill-opacity="0.25"/>
<rect x="83" y="454" width="28" height="9.0" fill="#0000ff" fill-opacity="0.5"/>
<g style="filter:grayscale(1)">
<text x="282.90" y="25.60" font-size="17.7" font-family="Liberation Sans, sans-serif" fill="#000" textLength="44.28" lengthAdjust="spacingAndGlyphs" >NULS</text>
<text x="332.45" y="25.60" font-size="17.7" font-family="Liberation Sans, sans-serif" fill="#000" textLength="35.02" lengthAdjust="spacingAndGlyphs" >RUB</text>
<text x="372.74" y="25.60" font-size="17.7" font-family="Liberation Sans, sans-serif" fill="#000" textLength="98.22" lengthAdjust="spacingAndGlyphs" >(NULS-RUB)</text>
<text x="476.22" y="25.60" font-size="17.7" font-family="Liberation Sans, sans-serif" fill="#000" textLength="35.77" lengthAdjust="spacingAndGlyphs" >long</text>
<text x="517.26" y="25.60" font-size="17.7" font-family="Liberation Sans, sans-serif" fill="#000" textLength="39.36" lengthAdjust="spacingAndGlyphs" >term</text>
<text x="561.89" y="25.60" font-size="17.7" font-family="Liberation Sans, sans-serif" fill="#000" textLength="41.25" lengthAdjust="spacingAndGlyphs" >price</text>
<text x="608.41" y="25.60" font-size="17.7" font-family="Liberation Sans, sans-serif" fill="#000" textLength="83.15" lengthAdjust="spacingAndGlyphs" >prediction</text>
<text x="696.84" y="25.60" font-size="17.7" font-family="Liberation Sans, sans-serif" fill="#000" textLength="5.58" lengthAdjust="spacingAndGlyphs" >:</text>
<text x="707.69" y="25.60" font-size="17.7" font-family="Liberation Sans, sans-serif" fill="#000" textLength="137.08" lengthAdjust="spacingAndGlyphs" >2025,2026,2027</text>
<text x="850.04" y="25.60" font-size="17.7" font-family="Liberation Sans, sans-serif" fill="#000" textLength="35.14" lengthAdjust="spacingAndGlyphs" >(Apr</text>
<text x="890.44" y="25.60" font-size="17.7" font-family="Liberation Sans, sans-serif" fill="#000" textLength="27.56" lengthAdjust="spacingAndGlyphs" >11)</text>
<text x="283.60" y="61.60" font-size="17.7" font-family="Liberation Sans, sans-serif" fill="#000" textLength="71.59" lengthAdjust="spacingAndGlyphs" >powered</text>
<text x="360.46" y="61.60" font-size="17.7" font-family="Liberation Sans, sans-serif" fill="#000" textLength="20.33" lengthAdjust="spacingAndGlyphs" >by</text>
<text x="386.06" y="61.60" font-size="17.7" font-family="Liberation Sans, sans-serif" fill="#000" textLength="144.18" lengthAdjust="spacingAndGlyphs" >Predict-Price.com</text>
<text x="535.51" y="61.60" font-size="17.7" font-family="Liberation Sans, sans-serif" fill="#000" textLength="31.19" lengthAdjust="spacingAndGlyphs" >and</text>
<text x="571.97" y="61.60" font-size="17.7" font-family="Liberation Sans, sans-serif" fill="#000" textLength="186.48" lengthAdjust="spacingAndGlyphs" >MagicalPrediction.com</text>
<text x="763.72" y="61.60" font-size="17.7" font-family="Liberation Sans, sans-serif" fill="#000" textLength="31.19" lengthAdjust="spacingAndGlyphs" >and</text>
<text x="800.17" y="61.60" font-size="17.7" font-family="Liberation Sans, sans-serif" fill="#000" textLength="172.43" lengthAdjust="spacingAndGlyphs" >MagicalAnalysis.com</text>
<text x="105.68" y="297.70" font-size="14.5" font-family="Liberation Sans, sans-serif" fill="#000" textLength="34.00" lengthAdjust="spacingAndGlyphs" >2022</text>
<text x="297.37" y="297.70" font-size="14.5" font-family="Liberation Sans, sans-serif" fill="#000" textLength="34.00" lengthAdjust="spacingAndGlyphs" >2023</text>
<text x="489.05" y="297.70" font-size="14.5" font-family="Liberation Sans, sans-serif" fill="#000" textLength="34.00" lengthAdjust="spacingAndGlyphs" >2024</text>
<text x="681.27" y="297.70" font-size="14.5" font-family="Liberation Sans, sans-serif" fill="#000" textLength="34.00" lengthAdjust="spacingAndGlyphs" >2025</text>
<text x="872.95" y="297.70" font-size="14.5" font-family="Liberation Sans, sans-serif" fill="#000" textLength="34.00" lengthAdjust="spacingAndGlyphs" >2026</text>
<text x="1064.64" y="297.70" font-size="14.5" font-family="Liberation Sans, sans-serif" fill="#000" textLength="34.00" lengthAdjust="spacingAndGlyphs" >2027</text>
<text x="79.02" y="561.60" font-size="14.5" font-family="Liberation Sans, sans-serif" fill="#000" textLength="56.80" lengthAdjust="spacingAndGlyphs" >2025-04</text>
<text x="205.31" y="561.60" font-size="14.5" font-family="Liberation Sans, sans-serif" fill="#000" textLength="56.80" lengthAdjust="spacingAndGlyphs" >2025-07</text>
<text x="332.98" y="561.60" font-size="14.5" font-family="Liberation Sans, sans-serif" fill="#000" textLength="56.80" lengthAdjust="spacingAndGlyphs" >2025-10</text>
<text x="460.65" y="561.60" font-size="14.5" font-family="Liberation Sans, sans-serif" fill="#000" textLength="56.80" lengthAdjust="spacingAndGlyphs" >2026-01</text>
<text x="585.54" y="561.60" font-size="14.5" font-family="Liberation Sans, sans-serif" fill="#000" textLength="56.80" lengthAdjust="spacingAndGlyphs" >2026-04</text>
<text x="711.83" y="561.60" font-size="14.5" font-family="Liberation Sans, sans-serif" fill="#000" textLength="56.80" lengthAdjust="spacingAndGlyphs" >2026-07</text>
<text x="839.50" y="561.60" font-size="14.5" font-family="Liberation Sans, sans-serif" fill="#000" textLength="56.80" lengthAdjust="spacingAndGlyphs" >2026-10</text>
<text x="967.17" y="561.60" font-size="14.5" font-family="Liberation Sans, sans-serif" fill="#000" textLength="56.80" lengthAdjust="spacingAndGlyphs" >2027-01</text>
<text x="1092.07" y="561.60" font-size="14.5" font-family="Liberation Sans, sans-serif" fill="#000" textLength="56.80" lengthAdjust="spacingAndGlyphs" >2027-04</text>
<text x="53.50" y="277.20" font-size="14.5" font-family="Liberation Sans, sans-serif" fill="#000" textLength="7.70" lengthAdjust="spacingAndGlyphs" >0</text>
<text x="53.50" y="542.80" font-size="14.5" font-family="Liberation Sans, sans-serif" fill="#000" textLength="7.70" lengthAdjust="spacingAndGlyphs" >0</text>
<text x="43.15" y="241.20" font-size="14.5" font-family="Liberation Sans, sans-serif" fill="#000" textLength="16.60" lengthAdjust="spacingAndGlyphs" >25</text>
<text x="43.15" y="506.60" font-size="14.5" font-family="Liberation Sans, sans-serif" fill="#000" textLength="16.60" lengthAdjust="spacingAndGlyphs" >25</text>
<text x="43.15" y="205.20" font-size="14.5" font-family="Liberation Sans, sans-serif" fill="#000" textLength="16.60" lengthAdjust="spacingAndGlyphs" >50</text>
<text x="43.15" y="470.40" font-size="14.5" font-family="Liberation Sans, sans-serif" fill="#000" textLength="16.60" lengthAdjust="spacingAndGlyphs" >50</text>
<text x="43.15" y="169.20" font-size="14.5" font-family="Liberation Sans, sans-serif" fill="#000" textLength="16.60" lengthAdjust="spacingAndGlyphs" >75</text>
<text x="43.15" y="434.20" font-size="14.5" font-family="Liberation Sans, sans-serif" fill="#000" textLength="16.60" lengthAdjust="spacingAndGlyphs" >75</text>
<text x="35.25" y="133.20" font-size="14.5" font-family="Liberation Sans, sans-serif" fill="#000" textLength="24.50" lengthAdjust="spacingAndGlyphs" >100</text>
<text x="35.25" y="398.00" font-size="14.5" font-family="Liberation Sans, sans-serif" fill="#000" textLength="24.50" lengthAdjust="spacingAndGlyphs" >100</text>
<text x="35.25" y="97.20" font-size="14.5" font-family="Liberation Sans, sans-serif" fill="#000" textLength="24.50" lengthAdjust="spacingAndGlyphs" >125</text>
<text x="35.25" y="361.80" font-size="14.5" font-family="Liberation Sans, sans-serif" fill="#000" textLength="24.50" lengthAdjust="spacingAndGlyphs" >125</text>
<text x="612.20" y="316.70" font-size="14.5" font-family="Liberation Sans, sans-serif" fill="#000" textLength="32.40" lengthAdjust="spacingAndGlyphs" >Date</text>
<text x="612.20" y="581.70" font-size="14.5" font-family="Liberation Sans, sans-serif" fill="#000" textLength="32.40" lengthAdjust="spacingAndGlyphs" >Date</text>
<text transform="translate(25.6,176.4) rotate(-90)" x="-16.2" y="0" font-size="14.5" font-family="Liberation Sans, sans-serif" fill="#000" textLength="33.2" lengthAdjust="spacingAndGlyphs">Price</text>
<text transform="translate(25.6,441.0) rotate(-90)" x="-16.2" y="0" font-size="14.5" font-family="Liberation Sans, sans-serif" fill="#000" textLength="33.2" lengthAdjust="spacingAndGlyphs">Price</text>
<text x="122.35" y="93.88" font-size="14.5" font-family="Liberation Sans, sans-serif" fill="#000" textLength="31.10" lengthAdjust="spacingAndGlyphs" >High</text>
<text x="122.35" y="114.83" font-size="14.5" font-family="Liberation Sans, sans-serif" fill="#000" textLength="26.60" lengthAdjust="spacingAndGlyphs" >Low</text>
<text x="122.35" y="135.78" font-size="14.5" font-family="Liberation Sans, sans-serif" fill="#000" textLength="37.00" lengthAdjust="spacingAndGlyphs" >Close</text>
<text x="122.35" y="156.73" font-size="14.5" font-family="Liberation Sans, sans-serif" fill="#000" textLength="31.62" lengthAdjust="spacingAndGlyphs" >High</text>
<text x="158.34" y="156.73" font-size="14.5" font-family="Liberation Sans, sans-serif" fill="#000" textLength="43.61" lengthAdjust="spacingAndGlyphs" >Range</text>
<text x="122.35" y="177.68" font-size="14.5" font-family="Liberation Sans, sans-serif" fill="#000" textLength="27.10" lengthAdjust="spacingAndGlyphs" >Low</text>
<text x="153.83" y="177.68" font-size="14.5" font-family="Liberation Sans, sans-serif" fill="#000" textLength="43.62" lengthAdjust="spacingAndGlyphs" >Range</text>
<text x="122.35" y="198.63" font-size="14.5" font-family="Liberation Sans, sans-serif" fill="#000" textLength="37.50" lengthAdjust="spacingAndGlyphs" >Close</text>
<text x="164.22" y="198.63" font-size="14.5" font-family="Liberation Sans, sans-serif" fill="#000" textLength="43.63" lengthAdjust="spacingAndGlyphs" >Range</text>
<text x="122.35" y="358.71" font-size="14.5" font-family="Liberation Sans, sans-serif" fill="#000" textLength="31.10" lengthAdjust="spacingAndGlyphs" >High</text>
<text x="122.35" y="379.66" font-size="14.5" font-family="Liberation Sans, sans-serif" fill="#000" textLength="26.60" lengthAdjust="spacingAndGlyphs" >Low</text>
<text x="122.35" y="400.61" font-size="14.5" font-family="Liberation Sans, sans-serif" fill="#000" textLength="37.00" lengthAdjust="spacingAndGlyphs" >Close</text>
<text x="122.35" y="421.56" font-size="14.5" font-family="Liberation Sans, sans-serif" fill="#000" textLength="31.62" lengthAdjust="spacingAndGlyphs" >High</text>
<text x="158.34" y="421.56" font-size="14.5" font-family="Liberation Sans, sans-serif" fill="#000" textLength="43.61" lengthAdjust="spacingAndGlyphs" >Range</text>
<text x="122.35" y="442.51" font-size="14.5" font-family="Liberation Sans, sans-serif" fill="#000" textLength="27.10" lengthAdjust="spacingAndGlyphs" >Low</text>
<text x="153.83" y="442.51" font-size="14.5" font-family="Liberation Sans, sans-serif" fill="#000" textLength="43.62" lengthAdjust="spacingAndGlyphs" >Range</text>
<text x="122.35" y="463.46" font-size="14.5" font-family="Liberation Sans, sans-serif" fill="#000" textLength="37.50" lengthAdjust="spacingAndGlyphs" >Close</text>
<text x="164.22" y="463.46" font-size="14.5" font-family="Liberation Sans, sans-serif" fill="#000" textLength="43.63" lengthAdjust="spacingAndGlyphs" >Range</text>
<text x="217.7" y="161.7" font-size="43" font-family="Liberation Sans, sans-serif" fill="#808080" fill-opacity="0.085" textLength="362.5" lengthAdjust="spacingAndGlyphs">Predict-Price.com</text>
<text x="217.7" y="311.7" font-size="43" font-family="Liberation Sans, sans-serif" fill="#808080" fill-opacity="0.085" textLength="362.5" lengthAdjust="spacingAndGlyphs">Predict-Price.com</text>
<text x="217.7" y="461.7" font-size="43" font-family="Liberation Sans, sans-serif" fill="#808080" fill-opacity="0.085" textLength="362.5" lengthAdjust="spacingAndGlyphs">Predict-Price.com</text>
<text x="620.2" y="161.7" font-size="43" font-family="Liberation Sans, sans-serif" fill="#808080" fill-opacity="0.085" textLength="362.5" lengthAdjust="spacingAndGlyphs">Predict-Price.com</text>
<text x="620.2" y="311.7" font-size="43" font-family="Liberation Sans, sans-serif" fill="#808080" fill-opacity="0.085" textLength="362.5" lengthAdjust="spacingAndGlyphs">Predict-Price.com</text>
<text x="620.2" y="461.7" font-size="43" font-family="Liberation Sans, sans-serif" fill="#808080" fill-opacity="0.085" textLength="362.5" lengthAdjust="spacingAndGlyphs">Predict-Price.com</text>
</g>
</svg>
</body></html>
